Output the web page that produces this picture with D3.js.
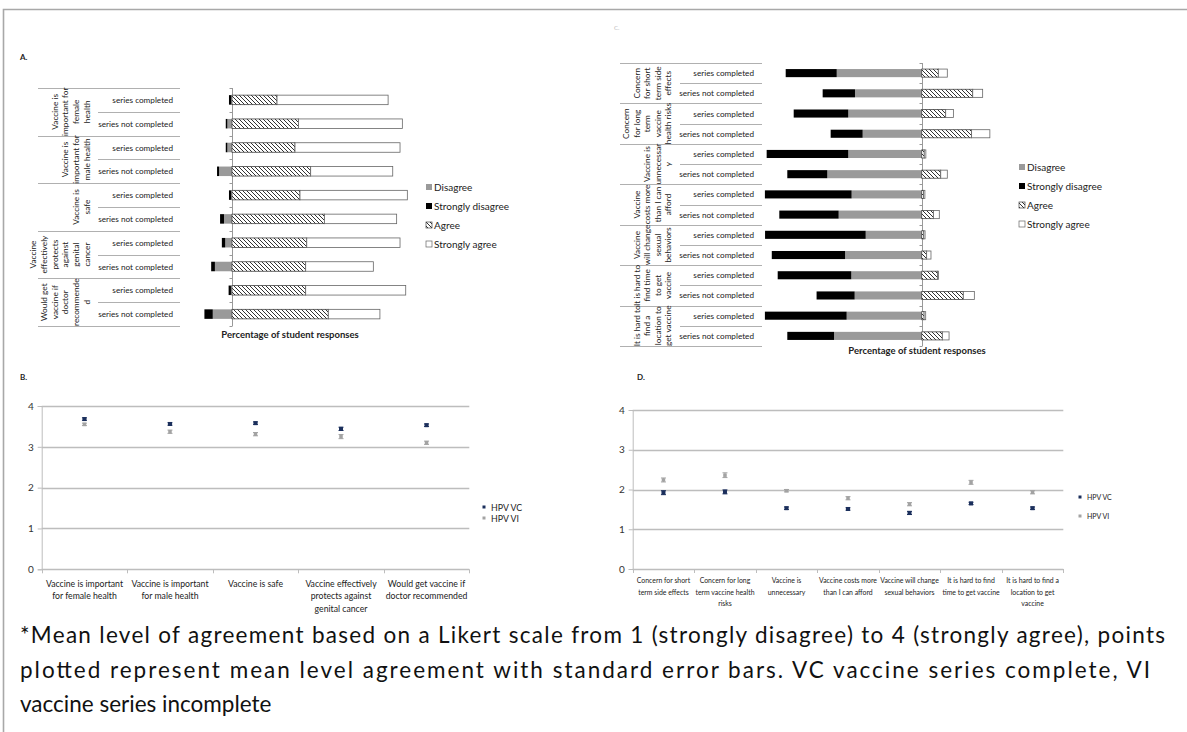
<!DOCTYPE html>
<html>
<head>
<meta charset="utf-8">
<script src="https://d3js.org/d3.v7.min.js"></script>
<style>
  body { margin: 0; background: #fff; }
  svg text { font-family: Lato, "Open Sans", sans-serif; }
</style>
</head>
<body>
<svg id="fig" width="1187" height="732"></svg>
<script>
// ---- data ----
const seriesRows = ["series completed", "series not completed"];
const likertKeys = ["Disagree", "Strongly disagree", "Agree", "Strongly agree"];

// panel A: motivators (percent of students)
const groupsA = [
  ["Vaccine is", "important for", "female", "health"],
  ["Vaccine is", "important for", "male health"],
  ["Vaccine is", "safe"],
  ["Vaccine", "effectively", "protects", "against", "genital", "cancer"],
  ["Would get", "vaccine if", "doctor", "recommende", "d"]
];
const strongDisA = [1.3, 0.9, 0.9, 1.1, 1.2, 2.2, 1.9, 2.1, 1.3, 4.7];
const disagreeA = [0.4, 2.6, 2.6, 7.3, 0.5, 4.5, 3.8, 9.6, 0.6, 10.8];
const agreeA = [25.3, 37.3, 35.4, 44.2, 38.2, 51.9, 42.0, 41.4, 41.4, 54.1];
const strongAgrA = [62.4, 58.4, 59.0, 46.1, 60.3, 40.6, 52.4, 38.0, 56.2, 29.0];

// panel C: barriers (percent of students)
const groupsC = [
  ["Concern", "for short", "term side", "effects"],
  ["Concern", "for long", "term", "vaccine", "health risks"],
  ["Vaccine is", "unnecessar", "y"],
  ["Vaccine", "costs more", "than I can", "afford"],
  ["Vaccine", "will change", "sexual", "behaviors"],
  ["It is hard to", "find time", "to get", "vaccine"],
  ["It is hard to", "find a", "location to", "get vaccine"]
];
const strongDisC = [31.9, 20.2, 34.1, 20.0, 51.0, 25.0, 54.2, 37.1, 62.9, 45.8, 46.0, 23.8, 51.1, 29.2];
const disagreeC = [53.1, 41.7, 45.9, 36.9, 45.9, 59.0, 43.8, 51.9, 35.0, 47.9, 44.0, 41.9, 46.9, 54.8];
const agreeC = [10.4, 31.9, 15.0, 31.2, 1.6, 11.9, 1.2, 7.3, 1.3, 3.1, 10.0, 26.0, 1.5, 12.9];
const strongAgrC = [5.6, 6.2, 4.8, 11.4, 1.0, 4.1, 0.8, 3.7, 0.8, 2.7, 0.5, 6.9, 1.0, 4.2];

// panel B: mean agreement (1-4) with standard errors
const catsB = [
  ["Vaccine is important", "for female health"],
  ["Vaccine is important", "for male health"],
  ["Vaccine is safe"],
  ["Vaccine effectively", "protects against", "genital cancer"],
  ["Would get vaccine if", "doctor recommended"]
];
const meanVcB = [3.68, 3.56, 3.58, 3.44, 3.53];
const meanViB = [3.55, 3.37, 3.31, 3.25, 3.10];
const seVcB = [0.03, 0.03, 0.03, 0.04, 0.03];
const seViB = [0.03, 0.04, 0.04, 0.05, 0.04];

// panel D
const catsD = [
  ["Concern for short", "term side effects"],
  ["Concern for long", "term vaccine health", "risks"],
  ["Vaccine is", "unnecessary"],
  ["Vaccine costs more", "than I can afford"],
  ["Vaccine will change", "sexual behaviors"],
  ["It is hard to find", "time to get vaccine"],
  ["It is hard to find a", "location to get", "vaccine"]
];
const meanVcD = [1.92, 1.94, 1.53, 1.51, 1.41, 1.65, 1.53];
const meanViD = [2.24, 2.36, 1.97, 1.78, 1.63, 2.18, 1.93];
const seVcD = [0.05, 0.05, 0.03, 0.03, 0.04, 0.03, 0.03];
const seViD = [0.05, 0.06, 0.03, 0.04, 0.04, 0.05, 0.04];

const captionLines = [
  "*Mean level of agreement based on a Likert scale from 1 (strongly disagree) to 4 (strongly agree), points",
  "plotted represent mean level agreement with standard error bars. VC vaccine series complete, VI",
  "vaccine series incomplete"
];
const captionWidths = [1145, 1130, null];

// ---- drawing ----
const svg = d3.select("#fig");
svg.append("rect").attr("width", 1187).attr("height", 732).attr("fill", "#fff");

const defs = svg.append("defs");
defs.append("pattern")
  .attr("id", "hatch")
  .attr("patternUnits", "userSpaceOnUse")
  .attr("width", 4).attr("height", 4)
  .call(p => {
    p.append("rect").attr("width", 4).attr("height", 4).attr("fill", "#fff");
    p.append("path").attr("d", "M0,0 L4,4 M-1,3 L1,5 M3,-1 L5,1")
      .attr("stroke", "#333").attr("stroke-width", 1);
  });

// frame around the figure
svg.append("path").attr("d", "M3.5,732 V9.5 H1187")
  .attr("fill", "none").attr("stroke", "#a8a8a8").attr("stroke-width", 1.6);

const fills = { "Disagree": "#9a9a9a", "Strongly disagree": "#000", "Agree": "url(#hatch)", "Strongly agree": "#fff" };
const strokes = { "Disagree": "none", "Strongly disagree": "none", "Agree": "#444", "Strongly agree": "#666" };

function stackedPanel(o) {
  const g = svg.append("g");
  const n = o.groups.length * 2;
  const rowIds = d3.range(n);
  const y = d3.scaleBand().domain(rowIds).range([o.top, o.bottom]);
  const bw = y.bandwidth();
  const x = d3.scaleLinear().domain(o.domain).range(o.range);

  // category table lines
  for (let i = 0; i <= n; i++) {
    const yy = Math.round(o.top + i * bw) + 0.5;
    g.append("line")
      .attr("x1", i % 2 === 0 ? o.tableLeft : o.innerLeft).attr("x2", o.tableRight)
      .attr("y1", yy).attr("y2", yy)
      .attr("stroke", "#b0b0b0").attr("stroke-width", 1);
  }
  // series labels
  g.selectAll(".rowlab").data(rowIds).join("text")
    .attr("x", o.labelRight)
    .attr("y", d => y(d) + bw / 2)
    .attr("text-anchor", "end").attr("dominant-baseline", "central")
    .attr("font-size", 8.2).attr("fill", "#222")
    .text(d => seriesRows[d % 2]);
  // rotated group labels
  o.groups.forEach((lines, gi) => {
    const cy = o.top + (gi * 2 + 1) * bw;
    lines.forEach((t, li) => {
      const cx = o.lastLineX - (lines.length - 1 - li) * o.lineGap;
      g.append("text")
        .attr("transform", `translate(${cx},${cy}) rotate(-90)`)
        .attr("text-anchor", "middle").attr("dominant-baseline", "central")
        .attr("font-size", 8.3).attr("fill", "#222")
        .text(t);
    });
  });

  // zero axis with ticks at row boundaries
  const x0 = Math.round(x(0)) + 0.5;
  g.append("line").attr("x1", x0).attr("x2", x0).attr("y1", o.top).attr("y2", o.bottom)
    .attr("stroke", "#999");
  for (let i = 0; i <= n; i++) {
    const yy = Math.round(o.top + i * bw) + 0.5;
    g.append("line").attr("x1", x0 - 3).attr("x2", x0).attr("y1", yy).attr("y2", yy).attr("stroke", "#999");
  }

  // stacked bars
  const bh = bw * o.barFrac;
  const segs = [];
  rowIds.forEach(i => {
    const d = o.dis[i], sd = o.sdis[i], a = o.agr[i], sa = o.sagr[i];
    segs.push({ row: i, key: "Disagree", x0: -d, x1: 0 });
    segs.push({ row: i, key: "Strongly disagree", x0: -d - sd, x1: -d });
    segs.push({ row: i, key: "Agree", x0: 0, x1: a });
    segs.push({ row: i, key: "Strongly agree", x0: a, x1: a + sa });
  });
  g.selectAll(".seg").data(segs).join("rect")
    .attr("x", d => x(d.x0))
    .attr("width", d => Math.max(0, x(d.x1) - x(d.x0)))
    .attr("y", d => y(d.row) + (bw - bh) / 2)
    .attr("height", bh)
    .attr("fill", d => fills[d.key])
    .attr("stroke", d => strokes[d.key])
    .attr("stroke-width", 0.8);

  // axis title
  g.append("text").attr("x", o.titleX).attr("y", o.titleY)
    .attr("text-anchor", "middle").attr("font-size", 9.5).attr("font-weight", "bold").attr("fill", "#222")
    .text("Percentage of student responses");

  // legend
  const lg = g.append("g");
  likertKeys.forEach((k, i) => {
    const yy = o.legendY + i * 19;
    lg.append("rect").attr("x", o.legendX).attr("y", yy - 3).attr("width", 6).attr("height", 6)
      .attr("fill", fills[k]).attr("stroke", strokes[k]).attr("stroke-width", 0.7);
    lg.append("text").attr("x", o.legendX + 8).attr("y", yy)
      .attr("dominant-baseline", "central").attr("font-size", 10).attr("fill", "#222").text(k);
  });
}

stackedPanel({
  groups: groupsA, dis: disagreeA, sdis: strongDisA, agr: agreeA, sagr: strongAgrA,
  top: 88, bottom: 326, domain: [-15, 100], range: [232 - 15 * 1.78, 232 + 100 * 1.78],
  tableLeft: 38, innerLeft: 98, tableRight: 180, labelRight: 173, lastLineX: 87, lineGap: 10.8,
  barFrac: 0.4, titleX: 290, titleY: 338, legendX: 426, legendY: 187
});
stackedPanel({
  groups: groupsC, dis: disagreeC, sdis: strongDisC, agr: agreeC, sagr: strongAgrC,
  top: 63, bottom: 346, domain: [-100, 50], range: [921.7 - 160, 921.7 + 80],
  tableLeft: 620, innerLeft: 680, tableRight: 762, labelRight: 754, lastLineX: 668, lineGap: 10.5,
  barFrac: 0.4, titleX: 917, titleY: 354, legendX: 1019, legendY: 167
});

function pointsPanel(o) {
  const g = svg.append("g");
  const x = d3.scaleBand().domain(d3.range(o.cats.length)).range([o.left, o.right]);
  const y = d3.scaleLinear().domain([0, 4]).range([o.bottom, o.top]);

  // gridlines
  g.selectAll(".grid").data([0, 1, 2, 3, 4]).join("line")
    .attr("x1", o.left).attr("x2", o.right)
    .attr("y1", d => Math.round(y(d)) + 0.5).attr("y2", d => Math.round(y(d)) + 0.5)
    .attr("stroke", "#bdbdbd").attr("stroke-width", 1.3);

  // y axis
  const ya = g.append("g").attr("transform", `translate(${o.left},0)`)
    .call(d3.axisLeft(y).ticks(4).tickSize(4).tickPadding(4).tickFormat(d3.format("d")));
  ya.select(".domain").attr("stroke", "#bdbdbd");
  ya.selectAll(".tick line").attr("stroke", "#bdbdbd");
  ya.selectAll(".tick text").attr("font-size", 10).attr("fill", "#333")
    .attr("font-family", "Lato, 'Open Sans', sans-serif");

  // category boundary ticks
  const bounds = d3.range(o.cats.length + 1).map(i => o.left + i * x.step());
  g.selectAll(".ctick").data(bounds).join("line")
    .attr("x1", d => Math.round(d) + 0.5).attr("x2", d => Math.round(d) + 0.5)
    .attr("y1", o.bottom).attr("y2", o.bottom + 4)
    .attr("stroke", "#bdbdbd");

  // category labels
  o.cats.forEach((lines, i) => {
    lines.forEach((t, li) => {
      g.append("text").attr("x", x(i) + x.bandwidth() / 2).attr("y", o.labelY + li * o.lineH)
        .attr("text-anchor", "middle").attr("dominant-baseline", "central")
        .attr("font-size", o.fontSize).attr("fill", "#222").text(t);
    });
  });

  const series = [
    { key: "HPV VC", mean: o.vc, se: o.seVc, color: "#1b2f5c", size: 4 },
    { key: "HPV VI", mean: o.vi, se: o.seVi, color: "#a3a3a3", size: 3.5 }
  ];
  series.forEach(s => {
    const pts = s.mean.map((m, i) => ({ i, m, se: s.se[i] }));
    const sg = g.append("g");
    sg.selectAll(".eb").data(pts).join("path")
      .attr("d", d => {
        const cx = x(d.i) + x.bandwidth() / 2;
        const y1 = y(d.m + d.se), y2 = y(d.m - d.se);
        return `M${cx - 2.5},${y1}H${cx + 2.5}M${cx},${y1}V${y2}M${cx - 2.5},${y2}H${cx + 2.5}`;
      })
      .attr("stroke", s.color).attr("stroke-width", 1).attr("fill", "none");
    sg.selectAll(".pt").data(pts).join("rect")
      .attr("x", d => x(d.i) + x.bandwidth() / 2 - s.size / 2)
      .attr("y", d => y(d.m) - s.size / 2)
      .attr("width", s.size).attr("height", s.size)
      .attr("fill", s.color);
  });

  // legend
  series.forEach((s, i) => {
    const yy = o.legendY + i * o.legendGap;
    g.append("rect").attr("x", o.legendX - 1.5).attr("y", yy - 1.5).attr("width", 3).attr("height", 3).attr("fill", s.color);
    g.append("text").attr("x", o.legendX + 7).attr("y", yy).attr("dominant-baseline", "central")
      .attr("font-size", o.legendFont).attr("fill", "#222").text(s.key);
  });
}

pointsPanel({
  cats: catsB, vc: meanVcB, vi: meanViB, seVc: seVcB, seVi: seViB,
  left: 41.7, right: 469.3, top: 406, bottom: 569.3,
  labelY: 583, lineH: 12.5, fontSize: 8.7,
  legendX: 484, legendY: 507, legendGap: 11, legendFont: 8.8
});
pointsPanel({
  cats: catsD, vc: meanVcD, vi: meanViD, seVc: seVcD, seVi: seViD,
  left: 632.7, right: 1063.3, top: 410, bottom: 569,
  labelY: 580, lineH: 11.7, fontSize: 6.9,
  legendX: 1080, legendY: 497, legendGap: 19, legendFont: 7
});

// panel letters
[["A.", 20, 60], ["B.", 20, 380], ["D.", 637, 380]].forEach(([t, px, py]) => {
  svg.append("text").attr("x", px).attr("y", py).attr("font-size", 8).attr("font-weight", "bold")
    .attr("fill", "#222").text(t);
});
svg.append("text").attr("x", 614).attr("y", 30).attr("font-size", 6).attr("fill", "#bbb").text("C.");

// caption
const cap = svg.selectAll(".cap").data(captionLines).join("text")
  .attr("x", 20).attr("y", (d, i) => 643 + i * 34.5)
  .attr("font-size", 22.5).attr("fill", "#111")
  .text(d => d);
cap.filter((d, i) => captionWidths[i] !== null)
  .attr("textLength", (d, i) => captionWidths[captionLines.indexOf(d)])
  .attr("lengthAdjust", "spacing");
</script>
</body>
</html>
